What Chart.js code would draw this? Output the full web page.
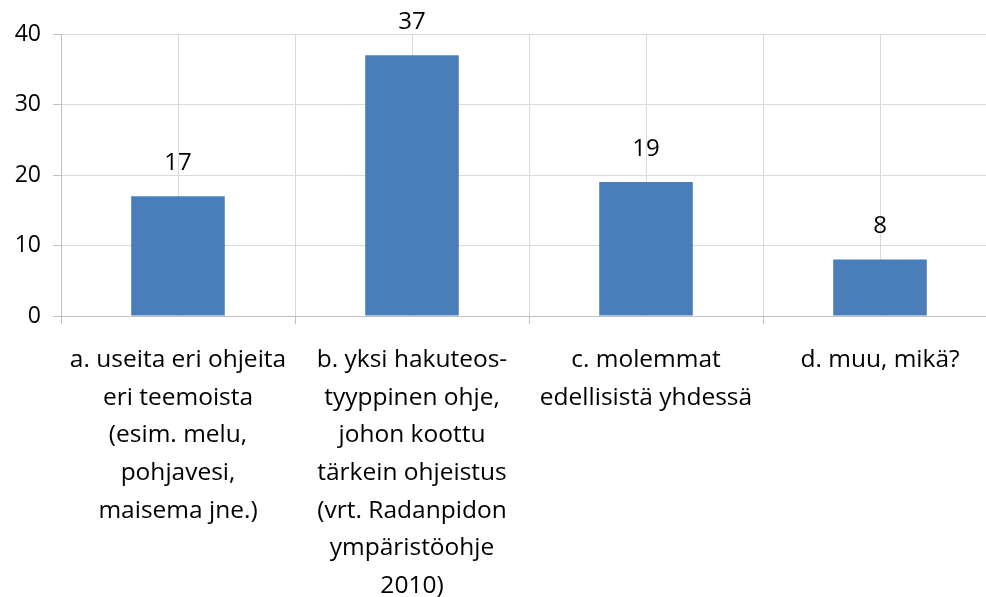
<!DOCTYPE html>
<html>
<head>
<meta charset="utf-8">
<script src="https://cdn.jsdelivr.net/npm/chart.js@4"></script>
<style>
  html, body { margin: 0; padding: 0; background: #fff; overflow: hidden; }
  #wrap { width: 1000px; height: 597px; }
</style>
</head>
<body>
<div id="wrap"><canvas id="grafica" width="1000" height="597"></canvas></div>
<script>
const etiquetas = [
    ['a. useita eri ohjeita', 'eri teemoista', '(esim. melu,', 'pohjavesi,', 'maisema jne.)'],
    ['b. yksi hakuteos-', 'tyyppinen ohje,', 'johon koottu', 'tärkein ohjeistus', '(vrt. Radanpidon', 'ympäristöohje', '2010)'],
    ['c. molemmat', 'edellisistä yhdessä'],
    ['d. muu, mikä?']
];
const valores = [17, 37, 19, 8];
const ejeY = [0, 10, 20, 30, 40];

const fuente = "'Open Sans', 'DejaVu Sans', sans-serif";

// lineas verticales en el centro de cada categoria + numeros encima
const extras = {
    id: 'extras',
    beforeDatasetsDraw(chart) {
        const ctx = chart.ctx, area = chart.chartArea, x = chart.scales.x;
        ctx.save();
        ctx.strokeStyle = '#d9d9d9';
        ctx.lineWidth = 1;
        etiquetas.forEach((e, i) => {
            const px = Math.round(x.getPixelForValue(i)) + 0.5;
            ctx.beginPath();
            ctx.moveTo(px, area.top);
            ctx.lineTo(px, area.bottom);
            ctx.stroke();
        });
        ctx.restore();
    },
    afterDatasetsDraw(chart) {
        const ctx = chart.ctx;
        ctx.save();
        ctx.fillStyle = '#000';
        ctx.font = '24px ' + fuente;
        ctx.textAlign = 'center';
        ctx.textBaseline = 'middle';
        chart.getDatasetMeta(0).data.forEach((bar, i) => {
            ctx.fillText(valores[i], bar.x, bar.y - 33);
        });
        ctx.restore();
    }
};

new Chart(document.getElementById('grafica').getContext('2d'), {
    type: 'bar',
    data: {
        labels: etiquetas,
        datasets: [{
            data: valores,
            backgroundColor: '#4a7ebb',
            borderWidth: 0,
            categoryPercentage: 1,
            barPercentage: 0.4
        }]
    },
    options: {
        responsive: false,
        animation: false,
        layout: { padding: { top: 34, right: 3, left: 0, bottom: 0 } },
        plugins: { legend: { display: false }, tooltip: { enabled: false } },
        scales: {
            x: {
                afterFit(s) { s.height = 281; },
                grid: { color: '#d9d9d9', tickColor: '#bfbfbf', tickLength: 8, offset: true },
                border: { color: '#bfbfbf' },
                ticks: {
                    color: '#000',
                    maxRotation: 0,
                    autoSkip: false,
                    padding: 17,
                    font: { family: fuente, size: 24.5, lineHeight: 1.54 }
                }
            },
            y: {
                min: 0,
                max: 40,
                afterFit(s) { s.width = 61; },
                afterBuildTicks(s) { s.ticks = ejeY.map(v => ({ value: v })); },
                grid: { color: '#d9d9d9', tickColor: '#bfbfbf', tickLength: 8 },
                border: { color: '#bfbfbf' },
                ticks: {
                    color: '#000',
                    padding: 12,
                    font: { family: fuente, size: 23 }
                }
            }
        }
    },
    plugins: [extras]
});
</script>
</body>
</html>
